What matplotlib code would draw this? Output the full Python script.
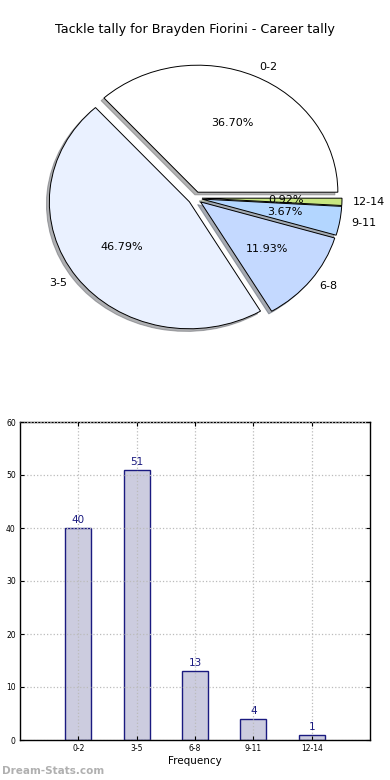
import matplotlib
matplotlib.use('Agg')
import matplotlib.pyplot as plt

# data
categories = ['0-2', '3-5', '6-8', '9-11', '12-14']
counts = [40, 51, 13, 4, 1]
pie_colors = ['#ffffff', '#eaf1ff', '#c4d9ff', '#b3d6ff', '#c8e680']
title = 'Tackle tally for Brayden Fiorini - Career tally'

fig = plt.figure(figsize=(3.9, 7.8), dpi=100)

fig.text(0.5, 1 - 30 / 780, title, ha='center', va='center', fontsize=9.2)

# pie (stretched, like the old non-equal aspect)
cx, cy, rx, ry = 195, 198, 140, 127
ax1 = fig.add_axes([(cx - 1.3 * rx) / 390, 1 - (cy + 1.3 * ry) / 780,
                    2.6 * rx / 390, 2.6 * ry / 780])
wedges, texts, autotexts = ax1.pie(
    counts, labels=categories, colors=pie_colors, explode=[0.05] * len(counts),
    autopct='%.2f%%', startangle=0, labeldistance=1.08,
    shadow={'ox': -0.015, 'oy': -0.015, 'shade': 0.6},
    wedgeprops={'edgecolor': 'black', 'linewidth': 0.7},
    textprops={'fontsize': 8})
ax1.set_aspect('auto')
ax1.set_xlim(-1.3, 1.3)
ax1.set_ylim(-1.3, 1.3)
ax1.axis('off')

# bars
ax2 = fig.add_axes([20 / 390, 1 - 740 / 780, 350 / 390, 318 / 780])
pos = list(range(len(categories)))
ax2.bar(pos, counts, width=0.45, color='#ccccdf', edgecolor='#1a1a80', linewidth=1)
for x, v in zip(pos, counts):
    ax2.text(x, v + 0.6, str(v), ha='center', va='bottom', color='#1a1a80', fontsize=7.5)
ax2.set_xlim(-1, 5)
ax2.set_ylim(0, 60)
ax2.set_xticks(pos)
ax2.set_xticklabels(categories)
ax2.set_yticks(range(0, 61, 10))
ax2.tick_params(labelsize=5.5, direction='in', top=True, right=True, length=3, pad=3)
ax2.grid(True, linestyle=':', color='#bbbbbb', linewidth=0.9)
ax2.set_axisbelow(False)
ax2.set_xlabel('Frequency', fontsize=7.5, labelpad=2)
for s in ax2.spines.values():
    s.set_linewidth(1)

fig.text(2 / 390, 1 - 771 / 780, 'Dream-Stats.com', color='#b0b0b0', fontsize=7.5,
         fontweight='bold', ha='left', va='center')

fig.savefig('out.png', dpi=100)
